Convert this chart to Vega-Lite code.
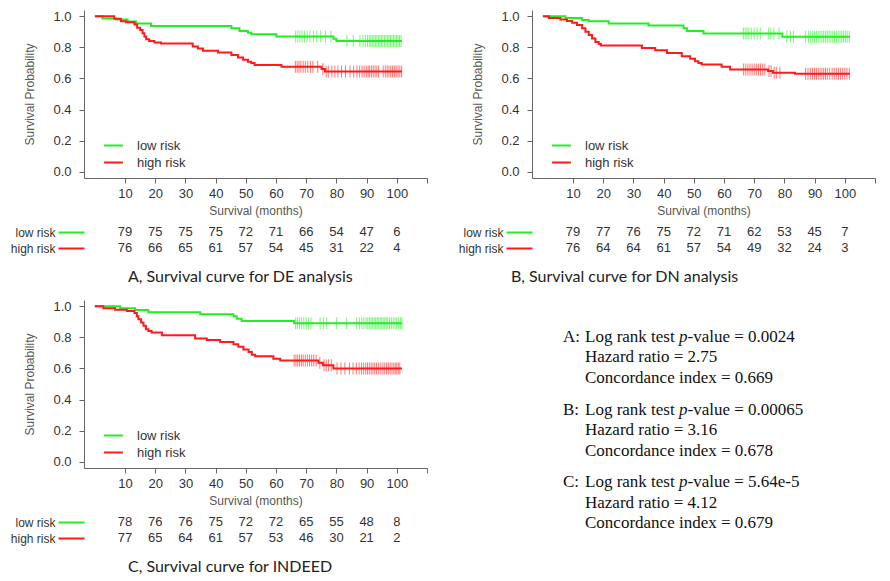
{
  "$schema": "https://vega.github.io/schema/vega-lite/v6.json",
  "padding": {"left": 10, "top": 10, "right": 0, "bottom": 0},
  "background": "white",
  "config": {
    "view": {"stroke": null},
    "axis": {"labelFont": "Liberation Sans", "titleFont": "Liberation Sans", "labelFontSize": 13, "titleFontSize": 12, "titleFontWeight": "normal", "labelColor": "#333", "titleColor": "#555", "domainColor": "#666", "tickColor": "#666", "grid": false, "labelOverlap": false},
    "legend": {"labelFont": "Liberation Sans", "labelFontSize": 13, "labelColor": "#333", "symbolOpacity": 1},
    "title": {"font": "Lato", "fontSize": 16, "fontWeight": "normal", "color": "#222"}
  },
  "datasets": {
    "curves": [
      {"panel": "A", "group": "low risk", "t": [0, 2.5, 7, 10.8, 13.6, 18.6, 45.2, 47.9, 50.7, 51.8, 60.1, 79, 80, 101.7], "s": [1, 0.985, 0.979, 0.966, 0.954, 0.937, 0.922, 0.905, 0.894, 0.884, 0.869, 0.855, 0.841, 0.841]},
      {"panel": "A", "group": "high risk", "t": [0, 6.4, 8.6, 10.3, 13.1, 14, 15, 15.8, 16.4, 17, 18, 19.7, 21.9, 32.4, 34.1, 35.8, 40.8, 45.2, 47.4, 49.1, 50.7, 51.8, 52.9, 61.8, 75.1, 76.2, 101.7], "s": [1, 0.983, 0.968, 0.962, 0.947, 0.926, 0.911, 0.89, 0.869, 0.852, 0.841, 0.831, 0.824, 0.805, 0.793, 0.778, 0.767, 0.75, 0.735, 0.72, 0.708, 0.699, 0.687, 0.675, 0.66, 0.645, 0.645]},
      {"panel": "B", "group": "low risk", "t": [0, 7.5, 13, 15.2, 21.8, 35, 46.6, 47.7, 53.2, 79.3, 101.7], "s": [1, 0.988, 0.976, 0.967, 0.953, 0.941, 0.922, 0.905, 0.889, 0.868, 0.868]},
      {"panel": "B", "group": "high risk", "t": [0, 2, 5.8, 8, 9.7, 11.3, 13, 14.1, 15.2, 16.3, 17.4, 18.5, 19.2, 32.8, 37.2, 41.1, 46, 48.8, 50.4, 51.5, 52.6, 59.2, 62, 74.6, 76.2, 83.5, 101.7], "s": [1, 0.988, 0.979, 0.97, 0.958, 0.943, 0.922, 0.9, 0.88, 0.857, 0.835, 0.822, 0.812, 0.796, 0.781, 0.764, 0.743, 0.726, 0.711, 0.7, 0.69, 0.675, 0.658, 0.648, 0.637, 0.63, 0.63]},
      {"panel": "C", "group": "low risk", "t": [0, 8.4, 13.3, 17.7, 34.9, 45.9, 47, 48.6, 66, 101.7], "s": [1, 0.987, 0.975, 0.962, 0.949, 0.936, 0.92, 0.905, 0.89, 0.89]},
      {"panel": "C", "group": "high risk", "t": [0, 2.8, 6.7, 10.6, 13.1, 13.9, 14.4, 15.3, 16.1, 16.9, 17.7, 18.8, 22.2, 33.2, 37.1, 41.5, 45.9, 47.5, 49.2, 50.9, 52, 53.1, 59.1, 61.4, 74, 75.5, 79, 101.7], "s": [1, 0.987, 0.978, 0.969, 0.956, 0.935, 0.917, 0.896, 0.874, 0.852, 0.841, 0.831, 0.813, 0.792, 0.783, 0.77, 0.755, 0.74, 0.722, 0.705, 0.688, 0.679, 0.662, 0.651, 0.636, 0.62, 0.599, 0.599]}
    ],
    "censor": [
      {"panel": "A", "group": "low risk", "s": 0.869, "t": [66.5, 67.2, 67.9, 68.6, 69.4, 70.3, 71.2, 72.4, 73.5, 74.8, 76.4, 78.2]},
      {"panel": "A", "group": "low risk", "s": 0.841, "t": [83.5, 85.6, 87.8, 88.8, 89.6, 90.3, 90.9, 91.4, 91.9, 92.4, 92.9, 93.4, 93.9, 94.4, 94.9, 95.4, 95.9, 96.4, 96.9, 97.4, 97.9, 98.4, 98.9, 99.4, 99.9, 100.4, 100.9, 101.4]},
      {"panel": "A", "group": "high risk", "s": 0.675, "t": [66.4, 67, 67.6, 68.2, 69, 69.7, 70.5, 71.4, 72.2, 73.8]},
      {"panel": "A", "group": "high risk", "s": 0.66, "t": [75.5]},
      {"panel": "A", "group": "high risk", "s": 0.645, "t": [76.6, 77.3, 78.5, 79.5, 80.5, 81.7, 83, 84.5, 85.7, 86.8, 87.7, 88.5, 89.2, 89.9, 90.5, 91, 91.6, 92.2, 92.8, 93.4, 94, 95.5, 96.2, 96.8, 97.4, 98, 98.6, 99.2, 99.8, 100.4, 101, 101.6]},
      {"panel": "B", "group": "low risk", "s": 0.889, "t": [66.4, 67, 67.6, 68.2, 69, 70, 71, 72, 74.8, 75.5, 76.5, 78.2]},
      {"panel": "B", "group": "low risk", "s": 0.868, "t": [80.8, 82, 83, 87, 88, 88.7, 89.4, 90, 90.6, 91.2, 91.8, 92.4, 93, 93.6, 94.2, 94.8, 95.4, 96, 96.6, 97.2, 97.8, 98.4, 99, 99.6, 100.2, 100.8, 101.5]},
      {"panel": "B", "group": "high risk", "s": 0.658, "t": [66.5, 67.2, 67.9, 68.6, 69.3, 70, 70.7, 71.4, 72.1, 72.8, 73.5]},
      {"panel": "B", "group": "high risk", "s": 0.648, "t": [74.9, 75.6]},
      {"panel": "B", "group": "high risk", "s": 0.637, "t": [76.6, 77.3, 78.5]},
      {"panel": "B", "group": "high risk", "s": 0.63, "t": [87, 87.8, 88.6, 89.3, 90, 90.6, 91.2, 91.8, 92.4, 93, 93.6, 94.2, 95, 95.8, 96.5, 97.2, 97.9, 98.6, 99.3, 100, 100.7, 101.5]},
      {"panel": "C", "group": "low risk", "s": 0.89, "t": [66.5, 67.1, 67.8, 68.5, 69.2, 70, 70.8, 71.6, 74.6, 75.7, 76.8, 80.1, 83.4, 86.7, 87.6, 88.4, 89.1, 89.8, 90.4, 91, 91.5, 92, 92.5, 93, 93.5, 94, 94.5, 95, 95.5, 96, 96.5, 97, 97.6, 98.2, 98.8, 99.4, 100, 100.6, 101.2, 101.7]},
      {"panel": "C", "group": "high risk", "s": 0.651, "t": [66, 66.6, 67.2, 67.8, 68.4, 69, 69.7, 70.4, 71.1, 71.8, 72.5, 73.3]},
      {"panel": "C", "group": "high risk", "s": 0.636, "t": [74.5]},
      {"panel": "C", "group": "high risk", "s": 0.62, "t": [75.9, 76.6, 77.4, 78.3]},
      {"panel": "C", "group": "high risk", "s": 0.599, "t": [80.2, 81.5, 82.8, 84.3, 85.5, 86.6, 87.5, 88.3, 89, 89.7, 90.3, 90.9, 91.5, 92.1, 92.7, 93.3, 94, 94.7, 95.4, 96, 96.6, 97.2, 97.8, 98.4, 99, 99.5, 100, 100.5, 101]}
    ],
    "risk": [
      {"panel": "A", "group": "low risk", "t": [10, 20, 30, 40, 50, 60, 70, 80, 90, 100], "n": [79, 75, 75, 75, 72, 71, 66, 54, 47, 6]},
      {"panel": "A", "group": "high risk", "t": [10, 20, 30, 40, 50, 60, 70, 80, 90, 100], "n": [76, 66, 65, 61, 57, 54, 45, 31, 22, 4]},
      {"panel": "B", "group": "low risk", "t": [10, 20, 30, 40, 50, 60, 70, 80, 90, 100], "n": [79, 77, 76, 75, 72, 71, 62, 53, 45, 7]},
      {"panel": "B", "group": "high risk", "t": [10, 20, 30, 40, 50, 60, 70, 80, 90, 100], "n": [76, 64, 64, 61, 57, 54, 49, 32, 24, 3]},
      {"panel": "C", "group": "low risk", "t": [10, 20, 30, 40, 50, 60, 70, 80, 90, 100], "n": [78, 76, 76, 75, 72, 72, 65, 55, 48, 8]},
      {"panel": "C", "group": "high risk", "t": [10, 20, 30, 40, 50, 60, 70, 80, 90, 100], "n": [77, 65, 64, 61, 57, 53, 46, 30, 21, 2]}
    ],
    "stats": [
      {"panel": "A", "key": "A:", "pv": "-value = 0.0024", "hr": "Hazard ratio = 2.75", "ci": "Concordance index = 0.669"},
      {"panel": "B", "key": "B:", "pv": "-value = 0.00065", "hr": "Hazard ratio = 3.16", "ci": "Concordance index = 0.678"},
      {"panel": "C", "key": "C:", "pv": "-value = 5.64e-5", "hr": "Hazard ratio = 4.12", "ci": "Concordance index = 0.679"}
    ]
  },
  "resolve": {"scale": {"color": "independent"}, "legend": {"color": "independent"}},
  "vconcat": [
    {
      "resolve": {"scale": {"color": "independent"}, "legend": {"color": "independent"}},
      "hconcat": [
        {
          "spacing": 8,
          "vconcat": [
            {
              "width": 343, "height": 168,
              "layer": [
                {"data": {"name": "curves"}, "transform": [{"filter": "datum.panel === 'A'"}, {"flatten": ["t", "s"]}],
                 "mark": {"type": "line", "interpolate": "step-after", "strokeWidth": 2},
                 "encoding": {
                   "x": {"field": "t", "type": "quantitative", "scale": {"domain": [-3.6, 110], "nice": false, "zero": false}, "axis": {"values": [10, 20, 30, 40, 50, 60, 70, 80, 90, 100, 110], "tickCount": 30, "labelExpr": "datum.value > 100 ? '' : datum.label", "labelOverlap": false, "labelFlush": false, "title": "Survival (months)", "tickSize": 5, "labelPadding": 4, "titlePadding": 5}},
                   "y": {"field": "s", "type": "quantitative", "scale": {"domain": [-0.04, 1.04], "nice": false, "zero": false}, "axis": {"values": [0, 0.2, 0.4, 0.6, 0.8, 1], "tickCount": 30, "format": ".1f", "labelOverlap": false, "labelFlush": false, "title": "Survival Probability", "tickSize": 5, "labelPadding": 8, "titlePadding": 16}},
                   "color": {"field": "group", "type": "nominal", "scale": {"domain": ["low risk", "high risk"], "range": ["#22ee22", "#ff1a1a"]}, "legend": {"title": null, "orient": "none", "legendX": 13, "legendY": 126, "padding": 0, "symbolType": "M-0.29,0H1.93", "symbolSize": 289, "symbolStrokeWidth": 2, "rowPadding": 0, "labelOffset": 21}}
                 }},
                {"data": {"name": "censor"}, "transform": [{"filter": "datum.panel === 'A'"}, {"flatten": ["t"]}],
                 "mark": {"type": "tick", "orient": "vertical", "size": 12, "thickness": 1, "opacity": 0.6},
                 "encoding": {"x": {"field": "t", "type": "quantitative"}, "y": {"field": "s", "type": "quantitative"}, "color": {"field": "group", "type": "nominal"}}}
              ]
            },
            {
              "width": 343, "height": 32,
              "data": {"name": "risk"}, "transform": [{"filter": "datum.panel === 'A'"}, {"flatten": ["t", "n"]}],
              "mark": {"type": "text", "font": "Liberation Sans", "fontSize": 13, "color": "#333"},
              "encoding": {
                "x": {"field": "t", "type": "quantitative", "scale": {"domain": [-3.6, 110], "nice": false, "zero": false}, "axis": null},
                "y": {"field": "group", "type": "nominal", "scale": {"domain": ["low risk", "high risk"]}, "axis": {"title": null, "domain": false, "tickSize": 26, "tickWidth": 2, "tickColor": {"condition": {"test": "datum.value === 'low risk'", "value": "#22ee22"}, "value": "#ff1a1a"}, "labelPadding": 3, "labelFontSize": 12}},
                "text": {"field": "n", "type": "quantitative"}
              },
              "title": {"text": "A, Survival curve for DE analysis", "orient": "bottom", "anchor": "start", "frame": "group", "dx": 44, "offset": 13}
            }
          ]
        },
        {
          "spacing": 8,
          "vconcat": [
            {
              "width": 343, "height": 168,
              "layer": [
                {"data": {"name": "curves"}, "transform": [{"filter": "datum.panel === 'B'"}, {"flatten": ["t", "s"]}],
                 "mark": {"type": "line", "interpolate": "step-after", "strokeWidth": 2},
                 "encoding": {
                   "x": {"field": "t", "type": "quantitative", "scale": {"domain": [-3.6, 110], "nice": false, "zero": false}, "axis": {"values": [10, 20, 30, 40, 50, 60, 70, 80, 90, 100, 110], "tickCount": 30, "labelExpr": "datum.value > 100 ? '' : datum.label", "labelOverlap": false, "labelFlush": false, "title": "Survival (months)", "tickSize": 5, "labelPadding": 4, "titlePadding": 5}},
                   "y": {"field": "s", "type": "quantitative", "scale": {"domain": [-0.04, 1.04], "nice": false, "zero": false}, "axis": {"values": [0, 0.2, 0.4, 0.6, 0.8, 1], "tickCount": 30, "format": ".1f", "labelOverlap": false, "labelFlush": false, "title": "Survival Probability", "tickSize": 5, "labelPadding": 8, "titlePadding": 16}},
                   "color": {"field": "group", "type": "nominal", "scale": {"domain": ["low risk", "high risk"], "range": ["#22ee22", "#ff1a1a"]}, "legend": {"title": null, "orient": "none", "legendX": 13, "legendY": 126, "padding": 0, "symbolType": "M-0.29,0H1.93", "symbolSize": 289, "symbolStrokeWidth": 2, "rowPadding": 0, "labelOffset": 21}}
                 }},
                {"data": {"name": "censor"}, "transform": [{"filter": "datum.panel === 'B'"}, {"flatten": ["t"]}],
                 "mark": {"type": "tick", "orient": "vertical", "size": 12, "thickness": 1, "opacity": 0.6},
                 "encoding": {"x": {"field": "t", "type": "quantitative"}, "y": {"field": "s", "type": "quantitative"}, "color": {"field": "group", "type": "nominal"}}}
              ]
            },
            {
              "width": 343, "height": 32,
              "data": {"name": "risk"}, "transform": [{"filter": "datum.panel === 'B'"}, {"flatten": ["t", "n"]}],
              "mark": {"type": "text", "font": "Liberation Sans", "fontSize": 13, "color": "#333"},
              "encoding": {
                "x": {"field": "t", "type": "quantitative", "scale": {"domain": [-3.6, 110], "nice": false, "zero": false}, "axis": null},
                "y": {"field": "group", "type": "nominal", "scale": {"domain": ["low risk", "high risk"]}, "axis": {"title": null, "domain": false, "tickSize": 26, "tickWidth": 2, "tickColor": {"condition": {"test": "datum.value === 'low risk'", "value": "#22ee22"}, "value": "#ff1a1a"}, "labelPadding": 3, "labelFontSize": 12}},
                "text": {"field": "n", "type": "quantitative"}
              },
              "title": {"text": "B, Survival curve for DN analysis", "orient": "bottom", "anchor": "start", "frame": "group", "dx": -21, "offset": 13}
            }
          ]
        }
      ],
      "spacing": 30
    },
    {
      "resolve": {"scale": {"color": "independent"}, "legend": {"color": "independent"}},
      "hconcat": [
        {
          "spacing": 8,
          "vconcat": [
            {
              "width": 343, "height": 168,
              "layer": [
                {"data": {"name": "curves"}, "transform": [{"filter": "datum.panel === 'C'"}, {"flatten": ["t", "s"]}],
                 "mark": {"type": "line", "interpolate": "step-after", "strokeWidth": 2},
                 "encoding": {
                   "x": {"field": "t", "type": "quantitative", "scale": {"domain": [-3.6, 110], "nice": false, "zero": false}, "axis": {"values": [10, 20, 30, 40, 50, 60, 70, 80, 90, 100, 110], "tickCount": 30, "labelExpr": "datum.value > 100 ? '' : datum.label", "labelOverlap": false, "labelFlush": false, "title": "Survival (months)", "tickSize": 5, "labelPadding": 4, "titlePadding": 5}},
                   "y": {"field": "s", "type": "quantitative", "scale": {"domain": [-0.04, 1.04], "nice": false, "zero": false}, "axis": {"values": [0, 0.2, 0.4, 0.6, 0.8, 1], "tickCount": 30, "format": ".1f", "labelOverlap": false, "labelFlush": false, "title": "Survival Probability", "tickSize": 5, "labelPadding": 8, "titlePadding": 16}},
                   "color": {"field": "group", "type": "nominal", "scale": {"domain": ["low risk", "high risk"], "range": ["#22ee22", "#ff1a1a"]}, "legend": {"title": null, "orient": "none", "legendX": 13, "legendY": 126, "padding": 0, "symbolType": "M-0.29,0H1.93", "symbolSize": 289, "symbolStrokeWidth": 2, "rowPadding": 0, "labelOffset": 21}}
                 }},
                {"data": {"name": "censor"}, "transform": [{"filter": "datum.panel === 'C'"}, {"flatten": ["t"]}],
                 "mark": {"type": "tick", "orient": "vertical", "size": 12, "thickness": 1, "opacity": 0.6},
                 "encoding": {"x": {"field": "t", "type": "quantitative"}, "y": {"field": "s", "type": "quantitative"}, "color": {"field": "group", "type": "nominal"}}}
              ]
            },
            {
              "width": 343, "height": 32,
              "data": {"name": "risk"}, "transform": [{"filter": "datum.panel === 'C'"}, {"flatten": ["t", "n"]}],
              "mark": {"type": "text", "font": "Liberation Sans", "fontSize": 13, "color": "#333"},
              "encoding": {
                "x": {"field": "t", "type": "quantitative", "scale": {"domain": [-3.6, 110], "nice": false, "zero": false}, "axis": null},
                "y": {"field": "group", "type": "nominal", "scale": {"domain": ["low risk", "high risk"]}, "axis": {"title": null, "domain": false, "tickSize": 26, "tickWidth": 2, "tickColor": {"condition": {"test": "datum.value === 'low risk'", "value": "#22ee22"}, "value": "#ff1a1a"}, "labelPadding": 3, "labelFontSize": 12}},
                "text": {"field": "n", "type": "quantitative"}
              },
              "title": {"text": "C, Survival curve for INDEED", "orient": "bottom", "anchor": "start", "frame": "group", "dx": 44, "offset": 13}
            }
          ]
        },
        {
          "width": 300, "height": 219,
          "data": {"name": "stats"},
          "encoding": {
            "y": {"field": "panel", "type": "nominal", "scale": {"type": "point", "domain": ["A", "B", "C"], "padding": 0.51}, "axis": null},
            "x": {"datum": 0, "type": "quantitative", "scale": {"domain": [0, 1]}, "axis": null}
          },
          "layer": [
            {"mark": {"type": "text", "align": "left", "baseline": "middle", "font": "Liberation Serif", "fontSize": 17, "color": "#111"}, "encoding": {"text": {"field": "key"}}},
            {"mark": {"type": "text", "align": "left", "baseline": "middle", "font": "Liberation Serif", "fontSize": 17, "color": "#111", "dx": 22}, "encoding": {"text": {"value": "Log rank test"}}},
            {"mark": {"type": "text", "align": "left", "baseline": "middle", "font": "Liberation Serif", "fontSize": 17, "color": "#111", "dx": 116, "fontStyle": "italic"}, "encoding": {"text": {"value": "p"}}},
            {"mark": {"type": "text", "align": "left", "baseline": "middle", "font": "Liberation Serif", "fontSize": 17, "color": "#111", "dx": 124.5}, "encoding": {"text": {"field": "pv"}}},
            {"mark": {"type": "text", "align": "left", "baseline": "middle", "font": "Liberation Serif", "fontSize": 17, "color": "#111", "dx": 22, "dy": 20.5}, "encoding": {"text": {"field": "hr"}}},
            {"mark": {"type": "text", "align": "left", "baseline": "middle", "font": "Liberation Serif", "fontSize": 17, "color": "#111", "dx": 22, "dy": 41}, "encoding": {"text": {"field": "ci"}}}
          ]
        }
      ],
      "spacing": 135
    }
  ],
  "spacing": 15
}
